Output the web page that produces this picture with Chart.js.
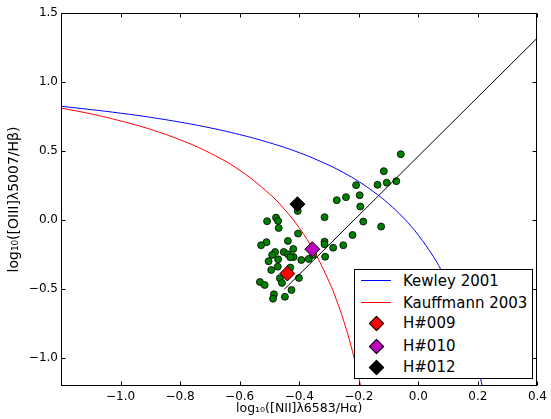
<!DOCTYPE html>
<html>
<head>
<meta charset="utf-8">
<script src="https://cdn.jsdelivr.net/npm/chart.js@4"></script>
<style>
  html, body { margin: 0; padding: 0; background: #fff; }
  #wrap { position: relative; width: 551px; height: 419px; }
  #legend {
    position: absolute; left: 354px; top: 269px; width: 177px; height: 108px;
    border: 1px solid #000; background: #fff;
    font-family: 'DejaVu Sans', sans-serif; font-size: 15px; color: #000;
  }
  .row { position: absolute; left: 0; height: 20px; width: 100%; }
  .row span { position: absolute; left: 48px; top: 0; line-height: 20px; }
  .ln { position: absolute; left: 6px; top: 9px; width: 30px; height: 0; border-top: 1px solid; }
  .dm { position: absolute; left: 16px; top: 5px; width: 9px; height: 9px; border: 1px solid #000; transform: rotate(45deg); }
</style>
</head>
<body>
<div id="wrap">
  <canvas id="bpt" width="551" height="419"></canvas>
  <div id="legend"></div>
</div>
<script>
// Kewley 2001 maximum starburst line
const kewleyX = [-1.2, -1.1, -1.0, -0.9, -0.8, -0.7, -0.6, -0.5, -0.4, -0.3, -0.25, -0.2, -0.15, -0.1, -0.05, 0.0, 0.05, 0.075, 0.1, 0.125, 0.15, 0.175, 0.2, 0.215];
const kewleyY = [0.825, 0.801, 0.775, 0.745, 0.710, 0.669, 0.620, 0.561, 0.489, 0.398, 0.343, 0.280, 0.206, 0.120, 0.017, -0.108, -0.262, -0.354, -0.459, -0.578, -0.716, -0.878, -1.069, -1.202];

// Kauffmann 2003 line
const kauffX = [-1.2, -1.1, -1.0, -0.9, -0.8, -0.7, -0.6, -0.5, -0.45, -0.4, -0.35, -0.3, -0.275, -0.25, -0.225, -0.2, -0.194];
const kauffY = [0.812, 0.770, 0.719, 0.658, 0.582, 0.487, 0.362, 0.191, 0.080, -0.056, -0.225, -0.443, -0.577, -0.733, -0.918, -1.140, -1.2];

// black dividing line
const divX = [-0.45, 0.4];
const divY = [-0.5, 1.32];

// green sample
const sampleX = [-0.059, -0.116, -0.137, -0.106, -0.074, -0.209, -0.274, -0.243, -0.197, -0.195,
  -0.185, -0.125, -0.221, -0.252, -0.286, -0.315, -0.315, -0.315, -0.313, -0.405,
  -0.508, -0.478, -0.471, -0.469, -0.404, -0.438, -0.510, -0.528, -0.420, -0.481,
  -0.452, -0.491, -0.438, -0.419, -0.430, -0.471, -0.393, -0.368, -0.353, -0.503,
  -0.472, -0.494, -0.430, -0.465, -0.401, -0.458, -0.532, -0.516, -0.426, -0.485,
  -0.488, -0.448];
const sampleY = [0.478, 0.355, 0.256, 0.272, 0.283, 0.254, 0.145, 0.167, 0.181, 0.099,
  -0.010, -0.046, -0.107, -0.181, -0.199, 0.022, -0.155, -0.174, -0.264, 0.067,
  -0.007, 0.019, -0.005, -0.056, -0.097, -0.150, -0.159, -0.181, -0.208, -0.230,
  -0.230, -0.251, -0.246, -0.266, -0.268, -0.283, -0.288, -0.280, -0.251, -0.297,
  -0.336, -0.360, -0.343, -0.420, -0.418, -0.454, -0.447, -0.469, -0.505, -0.536,
  -0.568, -0.554];

// highlighted objects
const objNames = ['H#009', 'H#010', 'H#012'];
const objX = [-0.440, -0.356, -0.406];
const objY = [-0.386, -0.210, 0.116];
const objColors = ['#ff0000', '#bf00bf', '#000000'];

const xTicks = [-1.0, -0.8, -0.6, -0.4, -0.2, 0.0, 0.2, 0.4];
const yTicks = [-1.0, -0.5, 0.0, 0.5, 1.0, 1.5];

const pts = (xs, ys) => xs.map((x, i) => ({ x: x, y: ys[i] }));
const fmt = v => (v < 0 ? '\u2212' : '') + Math.abs(v).toFixed(1);

const datasets = [];
objNames.forEach((n, i) => {
  datasets.push({
    label: n, data: [{ x: objX[i], y: objY[i] }],
    pointStyle: 'rectRot', pointRadius: 7.5, backgroundColor: objColors[i],
    borderColor: '#000', borderWidth: 1, order: 0
  });
});
datasets.push({ label: 'Kewley 2001', data: pts(kewleyX, kewleyY), showLine: true, tension: 0.4,
  borderColor: '#0000ff', borderWidth: 1, pointRadius: 0, order: 1 });
datasets.push({ label: 'Kauffmann 2003', data: pts(kauffX, kauffY), showLine: true, tension: 0.4,
  borderColor: '#ff0000', borderWidth: 1, pointRadius: 0, order: 1 });
datasets.push({ label: 'div', data: pts(divX, divY), showLine: true,
  borderColor: '#000', borderWidth: 1, pointRadius: 0, order: 1 });
datasets.push({ label: 'sample', data: pts(sampleX, sampleY),
  pointRadius: 3.5, backgroundColor: '#008000', borderColor: '#000', borderWidth: 0.8, order: 2 });

// matplotlib style frame with inward ticks on all sides
const frameTicks = {
  id: 'frameTicks',
  afterDraw(chart) {
    const { ctx, chartArea: a, scales: { x, y } } = chart;
    const L = Math.round(a.left) + 0.5, R = Math.round(a.right) - 0.5;
    const T = Math.round(a.top) + 0.5, B = Math.round(a.bottom) - 0.5;
    ctx.save();
    ctx.strokeStyle = '#000';
    ctx.lineWidth = 1;
    ctx.strokeRect(L, T, R - L, B - T);
    ctx.beginPath();
    x.ticks.forEach(t => {
      const px = Math.round(x.getPixelForValue(t.value)) + 0.5;
      ctx.moveTo(px, B); ctx.lineTo(px, B - 4);
      ctx.moveTo(px, T); ctx.lineTo(px, T + 4);
    });
    y.ticks.forEach(t => {
      const py = Math.round(y.getPixelForValue(t.value)) + 0.5;
      ctx.moveTo(L, py); ctx.lineTo(L + 4, py);
      ctx.moveTo(R, py); ctx.lineTo(R - 4, py);
    });
    ctx.stroke();
    ctx.restore();
  }
};

const font = { family: "'DejaVu Sans', sans-serif", size: 12 };

new Chart(document.getElementById('bpt'), {
  type: 'scatter',
  data: { datasets: datasets },
  options: {
    responsive: false,
    animation: false,
    layout: { padding: { left: 0, right: 10, top: 13, bottom: 0 } },
    plugins: { legend: { display: false }, tooltip: { enabled: false } },
    scales: {
      x: {
        type: 'linear', min: -1.2, max: 0.4,
        afterBuildTicks: s => { s.ticks = xTicks.map(v => ({ value: v })); },
        afterFit: s => { s.height = 33; },
        grid: { display: false, drawTicks: false },
        border: { display: false },
        ticks: { color: '#000', font: font, padding: 4, maxRotation: 0, callback: v => fmt(v) },
        title: { display: true, text: 'log\u2081\u2080([NII]\u03bb6583/H\u03b1)', color: '#000',
          font: { family: font.family, size: 12.5 }, padding: { top: 0, bottom: 3 } }
      },
      y: {
        type: 'linear', min: -1.2, max: 1.5,
        afterBuildTicks: s => { s.ticks = yTicks.map(v => ({ value: v })); },
        afterFit: s => { s.width = 61; },
        grid: { display: false, drawTicks: false },
        border: { display: false },
        ticks: { color: '#000', font: font, padding: 3, callback: v => fmt(v) },
        title: { display: true, text: 'log\u2081\u2080([OIII]\u03bb5007/H\u03b2)', color: '#000',
          font: { family: font.family, size: 14 }, padding: { top: 6, bottom: 0 } }
      }
    }
  },
  plugins: [frameTicks]
});

// legend box (lower right, inside the axes)
const legendItems = [
  { name: 'Kewley 2001', line: '#0000ff' },
  { name: 'Kauffmann 2003', line: '#ff0000' }
].concat(objNames.map((n, i) => ({ name: n, marker: objColors[i] })));
const rowTops = [1, 23, 43, 66, 87];
const lg = document.getElementById('legend');
legendItems.forEach((it, i) => {
  const row = document.createElement('div');
  row.className = 'row';
  row.style.top = rowTops[i] + 'px';
  const sym = document.createElement('div');
  if (it.line) { sym.className = 'ln'; sym.style.borderTopColor = it.line; }
  else { sym.className = 'dm'; sym.style.background = it.marker; }
  row.appendChild(sym);
  const txt = document.createElement('span');
  txt.textContent = it.name;
  row.appendChild(txt);
  lg.appendChild(row);
});
</script>
</body>
</html>
